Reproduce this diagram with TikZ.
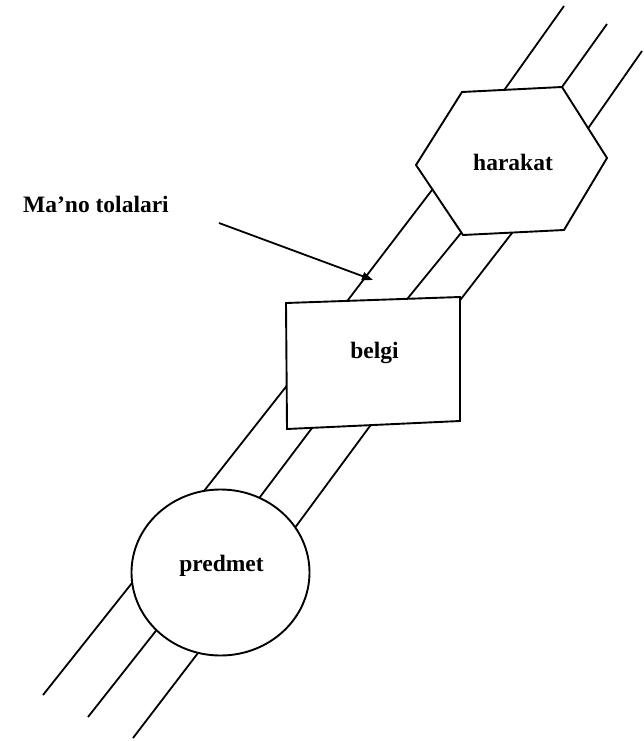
\documentclass[tikz,border=0pt]{standalone}
\usepackage{fontspec}
\setmainfont{Liberation Serif}
\usetikzlibrary{arrows.meta}
\begin{document}
\begin{tikzpicture}[x=1pt,y=-1pt,
  fibre/.style={line width=1.8pt, line join=round},
  figshape/.style={draw, fill=white, line width=1.9pt, line join=miter},
  lbl/.style={font=\fontsize{23.5}{28}\selectfont\bfseries, anchor=base, inner sep=0pt},
  pointer/.style={line width=1.8pt, -{Triangle[length=11pt,width=8pt]}}]
\useasboundingbox (0,0) rectangle (643,741);
% three meaning fibres
\draw[fibre] (43,695) -- (132,583) -- (204,491) -- (285,388) -- (348,300) -- (432,190) -- (505,89) -- (564,6);
\draw[fibre] (88,717) -- (155,632) -- (260,497) -- (312,428) -- (408,298) -- (461,233) -- (562,87) -- (607,24);
\draw[fibre] (133,738) -- (198,653) -- (297,525) -- (370,426) -- (461,299) -- (512,233) -- (589,127) -- (642,51);
% shapes
\draw[figshape] (220.5,572.5) ellipse [x radius=89, y radius=83];
\draw[figshape] (286,303) -- (460,297) -- (460,421) -- (287,429) -- cycle;
\draw[figshape] (462,92) -- (562,87) -- (607,158) -- (564,230) -- (463,235) -- (416,165) -- cycle;
% labels
\node[lbl] (predmet) at (221.5,571) {predmet};
\node[lbl] (belgi) at (374.5,358) {belgi};
\node[lbl] (harakat) at (513,170) {harakat};
\node[lbl, anchor=base west] (tolalar) at (23,212) {Ma'no tolalari};
% pointer
\coordinate (arrS) at (219,223);
\coordinate (arrE) at (373,280);
\draw[pointer] (arrS) -- (arrE);
\end{tikzpicture}
\end{document}
